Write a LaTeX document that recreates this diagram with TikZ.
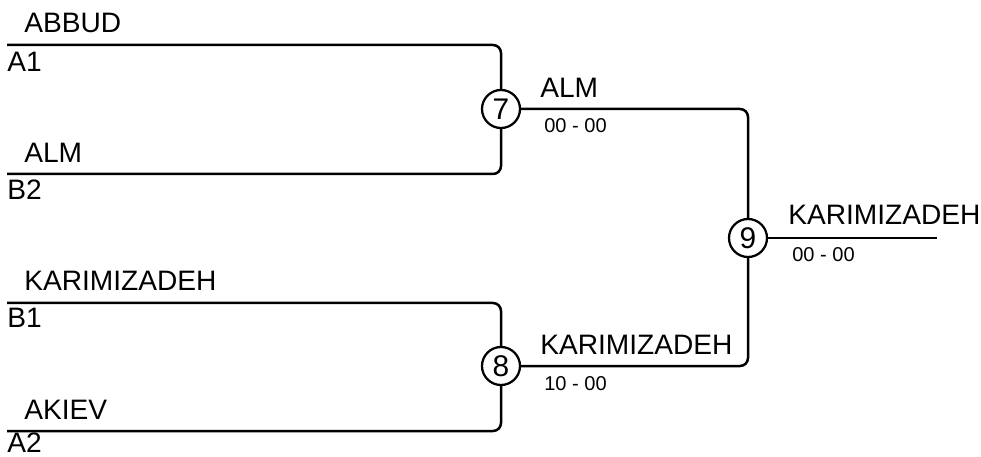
\documentclass[tikz,border=0pt]{standalone}
\usepackage{fontspec}
\setmainfont{Liberation Sans}

\begin{document}
\begin{tikzpicture}[x=0.2mm, y=-0.2mm, line/.style={draw=black, line width=0.5mm, rounded corners=1.6mm}]
% Define styles for matches, players, seeds and scores
\tikzstyle{match} = [draw, circle, line width=0.45mm, minimum size=7.6mm, inner sep=0pt, font=\fontsize{17}{19}\selectfont]
\tikzstyle{player} = [anchor=base west, inner sep=0pt, font=\fontsize{16}{18}\selectfont]
\tikzstyle{seed} = [player]
\tikzstyle{score} = [anchor=base west, inner sep=0pt, font=\fontsize{11.4}{13}\selectfont]
\tikzstyle{entry} = [coordinate]

\useasboundingbox (0,0) rectangle (981,457);

% Entries on the left
\coordinate [entry] (a1) at (7,45);
\coordinate [entry] (b2) at (7,174);
\coordinate [entry] (b1) at (7,303);
\coordinate [entry] (a2) at (7,431);
\coordinate [entry] (final) at (937,238);

% Nodes placement
\node [match] (m7) at (501,109) {7};
\node [match] (m8) at (501,366) {8};
\node [match] (m9) at (748,238) {9};

\node [player] (pa1) at (24,33) {ABBUD};
\node [seed] (sa1) at (7,72) {A1};
\node [player] (pb2) at (24,163) {ALM};
\node [seed] (sb2) at (7,200) {B2};
\node [player] (pb1) at (24,291) {KARIMIZADEH};
\node [seed] (sb1) at (7,328) {B1};
\node [player] (pa2) at (24,419) {AKIEV};
\node [seed] (sa2) at (7,452) {A2};

\node [player] (w7) at (540,98) {ALM};
\node [score] (r7) at (544,133) {00 - 00};
\node [player] (w8) at (540,355) {KARIMIZADEH};
\node [score] (r8) at (544,390) {10 - 00};
\node [player] (w9) at (788,225) {KARIMIZADEH};
\node [score] (r9) at (792,262) {00 - 00};

% Draw edges
\draw[line] (a1) -| (m7.north);
\draw[line] (b2) -| (m7.south);
\draw[line] (b1) -| (m8.north);
\draw[line] (a2) -| (m8.south);
\draw[line] (m7.east) -| (m9.north);
\draw[line] (m8.east) -| (m9.south);
\draw[line] (m9.east) -- (final);

\end{tikzpicture}
\end{document}
